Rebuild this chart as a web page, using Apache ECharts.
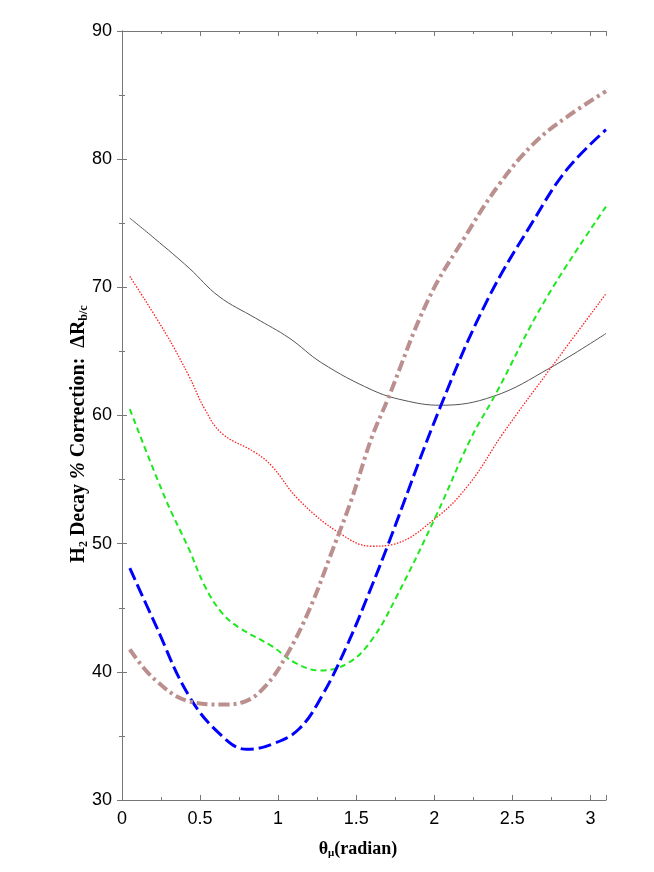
<!DOCTYPE html>
<html>
<head>
<meta charset="utf-8">
<script src="https://cdn.jsdelivr.net/npm/echarts@6/dist/echarts.min.js"></script>
<style>
  html, body { margin: 0; padding: 0; background: #fff; }
  #chart { width: 654px; height: 872px; }
</style>
</head>
<body>
<div id="chart"></div>
<script>
// x ticks / y ticks
var xTicks = [0, 0.5, 1, 1.5, 2, 2.5, 3];
var yTicks = [30, 40, 50, 60, 70, 80, 90];

// curves as [theta, value]
var blackSolid = [[0.05, 75.4], [0.21, 73.8], [0.43, 71.5], [0.62, 69.3], [0.855, 67.6], [1.07, 66.05], [1.28, 64.1], [1.6, 62.0], [1.8, 61.2], [2.04, 60.8], [2.38, 61.5], [2.74, 63.7], [3.1, 66.4]];
var redDotted = [[0.05, 70.85], [0.28, 66.4], [0.43, 63.05], [0.53, 60.5], [0.64, 58.6], [0.855, 57.1], [0.96, 56.05], [1.13, 53.45], [1.39, 50.85], [1.6, 49.8], [1.72, 49.9], [2.02, 52.1], [2.23, 54.75], [2.44, 58.6], [2.74, 63.6], [3.1, 69.5]];
var greenDashed = [[0.05, 60.5], [0.28, 53.45], [0.43, 49.55], [0.53, 46.7], [0.64, 44.6], [0.75, 43.45], [0.96, 42.0], [1.11, 40.7], [1.27, 40.1], [1.45, 40.7], [1.6, 42.5], [1.76, 45.9], [2.02, 52.4], [2.23, 58.1], [2.39, 61.6], [2.71, 69.0], [3.1, 76.3]];
var blueLongDash = [[0.05, 48.1], [0.21, 43.8], [0.43, 38.1], [0.64, 35.0], [0.8, 33.95], [0.96, 34.35], [1.13, 35.5], [1.28, 38.1], [1.45, 42.3], [1.6, 46.7], [1.7, 49.8], [2.04, 60.7], [2.34, 69.0], [2.64, 75.3], [2.85, 79.2], [3.1, 82.3]];
var brownDashDot = [[0.05, 41.75], [0.21, 39.4], [0.43, 37.7], [0.64, 37.45], [0.79, 37.7], [0.92, 38.9], [1.05, 41.2], [1.2, 44.85], [1.35, 49.55], [1.47, 53.45], [1.6, 58.3], [1.7, 61.2], [1.96, 69.0], [2.2, 74.0], [2.42, 78.1], [2.64, 81.25], [2.85, 83.3], [3.1, 85.3]];

var myChart = echarts.init(document.getElementById("chart"));

var axisColor = "#777";
var tickFont = { fontFamily: "Liberation Sans Narrow, Liberation Sans, Arial", fontSize: 18, color: "#000" };
var titleFont = "Liberation Serif, Times New Roman, serif";

function mirrorAxis(type, pos) {
  return {
    type: "value",
    position: pos,
    min: type == "x" ? 0 : 30,
    max: type == "x" ? 3.1 : 90,
    interval: type == "x" ? 0.5 : 10,
    axisLine: { show: true, lineStyle: { color: axisColor, width: 1 } },
    axisTick: { show: true, inside: true, length: 5, lineStyle: { color: axisColor } },
    minorTick: { show: true, splitNumber: 2, length: 3, lineStyle: { color: axisColor } },
    axisLabel: { show: false },
    splitLine: { show: false }
  };
}

var option = {
  animation: false,
  backgroundColor: "#fff",
  grid: { left: 122, right: 48, top: 31, bottom: 72 },
  // y axis title, placed by hand so it can sit close to the tick labels
  graphic: [
    {
      type: "text",
      x: 79,
      y: 434,
      rotation: Math.PI / 2,
      style: {
        text: "{n|H}{s|2}{n| Decay }{i|%}{n| Correction:  ΔR}{s|b/c}",
        align: "center",
        verticalAlign: "middle",
        rich: {
          n: { fontFamily: titleFont, fontWeight: "bold", fontSize: 20, fill: "#000", lineHeight: 22 },
          i: { fontFamily: titleFont, fontWeight: "bold", fontStyle: "italic", fontSize: 20, fill: "#000", lineHeight: 22 },
          s: { fontFamily: titleFont, fontWeight: "bold", fontSize: 12, fill: "#000", verticalAlign: "bottom", lineHeight: 22, padding: [9, 0, 0, 0] }
        }
      }
    }
  ],
  xAxis: [
    {
      type: "value",
      min: 0,
      max: 3.1,
      interval: 0.5,
      position: "bottom",
      name: "{n|θ}{s|μ}{n|(radian)}",
      nameLocation: "middle",
      nameGap: 39,
      nameTextStyle: {
        padding: [0, 12, 0, 0],
        rich: {
          n: { fontFamily: titleFont, fontWeight: "bold", fontSize: 18, color: "#000", lineHeight: 20 },
          s: { fontFamily: titleFont, fontWeight: "bold", fontSize: 11, color: "#000", verticalAlign: "bottom", lineHeight: 20, padding: [8, 0, 0, 0] }
        }
      },
      axisLine: { show: true, lineStyle: { color: axisColor, width: 1 } },
      axisTick: { show: true, inside: true, length: 5, lineStyle: { color: axisColor } },
      minorTick: { show: true, splitNumber: 2, length: 3, lineStyle: { color: axisColor } },
      axisLabel: Object.assign({
        margin: 10,
        showMaxLabel: false,
        formatter: function (v) { return xTicks.indexOf(v) >= 0 ? String(v) : ""; }
      }, tickFont),
      splitLine: { show: false }
    },
    mirrorAxis("x", "top")
  ],
  yAxis: [
    {
      type: "value",
      min: 30,
      max: 90,
      interval: 10,
      position: "left",
      axisLine: { show: true, lineStyle: { color: axisColor, width: 1 } },
      axisTick: { show: true, inside: true, length: 5, lineStyle: { color: axisColor } },
      minorTick: { show: true, splitNumber: 2, length: 3, lineStyle: { color: axisColor } },
      axisLabel: Object.assign({
        margin: 10,
        formatter: function (v) { return yTicks.indexOf(v) >= 0 ? String(v) : ""; }
      }, tickFont),
      splitLine: { show: false }
    },
    mirrorAxis("y", "right")
  ],
  series: [
    {
      name: "black", type: "line", data: blackSolid, smooth: 0.4, symbol: "none",
      lineStyle: { color: "#555", width: 1, type: "solid" }
    },
    {
      name: "red", type: "line", data: redDotted, smooth: 0.4, symbol: "none",
      lineStyle: { color: "#ff2020", width: 1.3, type: [1.5, 1.5] }
    },
    {
      name: "green", type: "line", data: greenDashed, smooth: 0.4, symbol: "none",
      lineStyle: { color: "#1ee81e", width: 2, type: [6, 4] }
    },
    {
      name: "blue", type: "line", data: blueLongDash, smooth: 0.4, symbol: "none",
      lineStyle: { color: "#0000ff", width: 3, type: [13, 5] }
    },
    {
      name: "brown", type: "line", data: brownDashDot, smooth: 0.4, symbol: "none",
      lineStyle: { color: "#bc8f8f", width: 4, type: [11, 4, 3, 4] }
    }
  ]
};

myChart.setOption(option);
</script>
</body>
</html>
